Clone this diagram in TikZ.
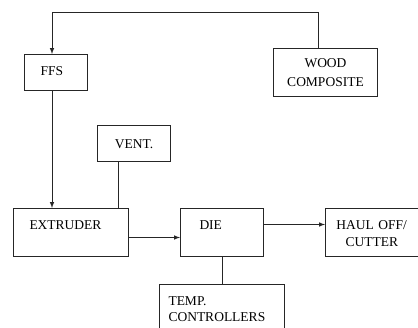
\documentclass[tikz,border=0pt]{standalone}
\usepackage{fontspec}
\setmainfont{Liberation Serif}
\usetikzlibrary{positioning}
\usetikzlibrary{arrows}

\begin{document}
\begin{tikzpicture}[x=1pt, y=-1pt,
		box/.style={draw=black!85, line width=1pt, rectangle, anchor=north west, inner ysep=0pt, font=\fontsize{13.5}{17}\selectfont},
		link/.style={draw=black!85, line width=1pt},
		flow/.style={link, -latex}]
			\useasboundingbox (0,0) rectangle (418,327);
			% Inputs
			\node[box, inner xsep=16pt, text width=31pt, align=left, text height=20.5pt, text depth=15.5pt] (ffs) at (24,54) {FFS};
			\node[box, inner xsep=0pt, text width=104pt, align=center, text height=18.5pt, text depth=29.5pt, font=\fontsize{13.5}{19}\selectfont] (wood) at (273,48) {WOOD\\COMPOSITE};
			\node[box, inner xsep=0pt, text width=73pt, align=center, text height=22.5pt, text depth=13.5pt] (vent) at (97,125) {VENT.};
			% Line
			\node[box, inner xsep=16pt, text width=83pt, align=left, text height=20.5pt, text depth=27.5pt] (extruder) at (13,208) {EXTRUDER};
			\node[box, inner xsep=19pt, text width=45pt, align=left, text height=20.5pt, text depth=27.5pt] (die) at (180,208) {DIE};
			\node[box, inner xsep=0pt, text width=92.5pt, align=center, text height=20.5pt, text depth=27.5pt] (haul) at (325,208) {HAUL OFF/\\CUTTER};
			\node[box, inner xsep=9pt, text width=107pt, align=left, text height=20.5pt, text depth=28pt, font=\fontsize{13.5}{16}\selectfont] (temp) at (159,284) {TEMP.\\CONTROLLERS};
			% Connections
			\coordinate (feed) at (52,12);
			\draw[flow] ([xshift=45pt]wood.north west) |- (feed) -- ([xshift=28pt]ffs.north west);
			\draw[flow] ([xshift=28pt]ffs.south west) -- ([xshift=39pt]extruder.north west);
			\draw[link] ([xshift=21pt]vent.south west) -- ([xshift=105pt]extruder.north west);
			\draw[flow] ([yshift=-5pt]extruder.east) -- ([yshift=-5pt]die.west);
			\draw[flow] ([yshift=8pt]die.east) -- ([yshift=8pt]haul.west);
			\draw[link] (die.south) -- (die.south |- temp.north);
		\end{tikzpicture}
\end{document}
